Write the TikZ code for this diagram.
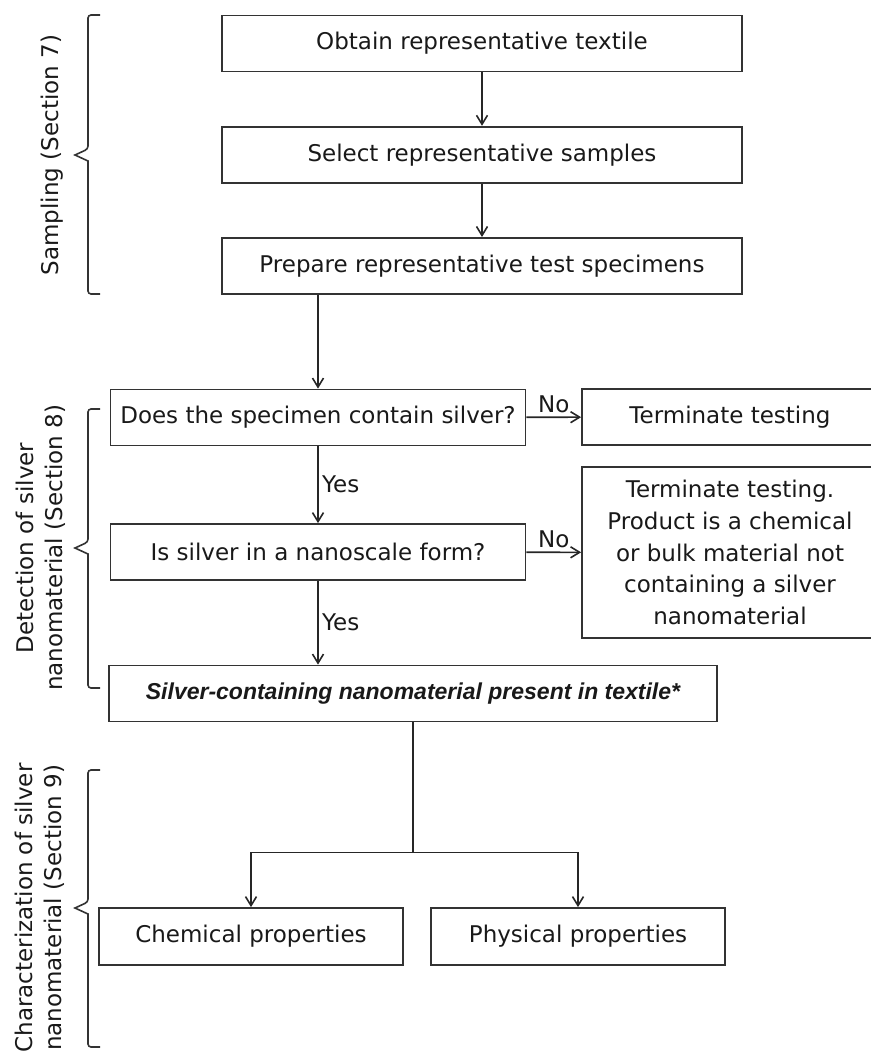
\documentclass[tikz,border=0pt]{standalone}
\usepackage{fontspec}
\setmainfont{DejaVu Sans}
\newfontfamily\arialfont{Liberation Sans}
\usetikzlibrary{positioning,arrows.meta}

\tikzset{
  every box/.style={draw=black!80, line width=1.8pt, align=center, inner sep=0pt,
    text=black!90, font=\fontsize{23}{31.7}\selectfont},
  box/.style={every box, minimum height=56},
  section label/.style={rotate=90, align=center, text=black!90,
    font=\fontsize{23}{29}\selectfont},
  brace line/.style={draw=black!80, line width=1.6pt},
  answer/.style={text=black!90, font=\fontsize{23}{28}\selectfont},
  link/.style={draw=black!85, line width=1.6pt}
}

\begin{document}
\begin{tikzpicture}[x=1pt, y=-1pt, >={Straight Barb[length=9pt,width=11pt]}]

\useasboundingbox (0,0) rectangle (870,1051);

% sampling
\foreach \m/\t [count=\y] in {obtain/Obtain representative textile,
    select/Select representative samples,
    prepare/Prepare representative test specimens}
  \node [box, minimum width=520] (\m) at (482,{43.5+111.2*(\y-1)}) {\t};

\foreach \a/\b in {obtain/select, select/prepare}
  \draw [link, ->] (\a) -- (\b);

% detection
\node [box, minimum width=415] (contain) at (318,417.5) {Does the specimen contain silver?};
\node [box, minimum width=415] (nano) at (318,552) {Is silver in a nanoscale form?};
\node [box, minimum width=296] (stop-1) at (730,417) {Terminate testing};
\node [box, minimum width=296, minimum height=171] (stop-2) at (730,552.5)
  {Terminate testing.\\ Product is a chemical\\ or bulk material not\\ containing a silver\\ nanomaterial};
\node [box, minimum width=608] (present) at (413,693.5)
  {\arialfont\bfseries\itshape Silver-containing nanomaterial present in textile*};

\draw [link, ->] (prepare.south -| contain.north) -- (contain.north);
\draw [link, ->] (contain) -- (nano)
  node [answer, right, midway] {Yes};
\draw [link, ->] (nano.south) -- (nano.south |- present.north)
  node [answer, right, midway] {Yes};
\draw [link, ->] (contain) -- (stop-1)
  node [answer, above, midway] {No};
\draw [link, ->] (nano) -- (stop-2)
  node [answer, above, midway] {No};

% characterization
\node [box, minimum width=304, minimum height=57] (chemical) at (251,936.5) {Chemical properties};
\node [box, minimum width=294, minimum height=57] (physical) at (578,936.5) {Physical properties};

\foreach \n in {chemical, physical}
  \draw [link, ->] (present.south) -- ++(0,130) -| (\n.north);

% section braces
\foreach \t/\m/\b in {15/155/294, 409/548/688, 770/908/1047}
  \draw [brace line] (100,\t) [rounded corners=3pt] -- (88,\t) -- (88,\m-6)
    [sharp corners] -- (75,\m) -- (88,\m+6) [rounded corners=3pt] -- (88,\b) -- (100,\b);

\node [section label] (sampling) at (52,155) {Sampling (Section 7)};
\node [section label] (detection) at (41,548) {Detection of silver\\ nanomaterial (Section 8)};
\node [section label] (characterization) at (40,908) {Characterization of silver\\ nanomaterial (Section 9)};

\end{tikzpicture}
\end{document}
